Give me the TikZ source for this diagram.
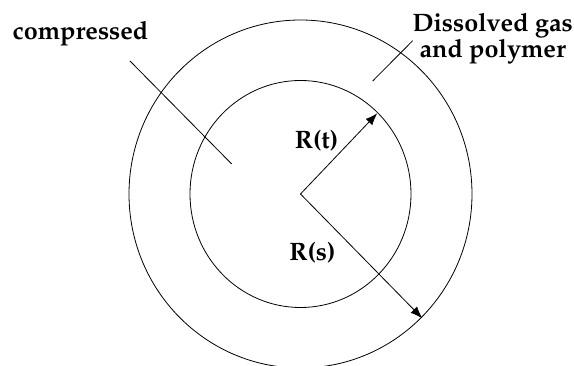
\documentclass[tikz,border=0pt]{standalone}
\usepackage[T1]{fontenc}
\usepackage{mathpazo}
\usetikzlibrary{arrows.meta}
\begin{document}
\begin{tikzpicture}[x=1pt,y=-1pt,line width=0.8pt,
  lbl/.style={font=\fontsize{25.2}{25.6}\selectfont\bfseries,inner sep=0pt},
  tip/.style={-{Latex[length=12pt,width=9pt]}}]
\useasboundingbox (0,0) rectangle (574,366);
\coordinate (c) at (300.5,194);
\draw (c) ellipse [x radius=110.5, y radius=113.5];
\draw (c) ellipse [x radius=171.5, y radius=174];
\node[lbl,anchor=base west] (comp) at (12.2,40) {compressed};
\node[lbl,align=center,anchor=base] (gas) at (492.7,57.3) {Dissolved gas\\and polymer};
\node[lbl,anchor=base west] (rt) at (294.5,149) {R(t)};
\node[lbl,anchor=base west] (rs) at (289,261) {R(s)};
\coordinate (a) at (130,61);
\coordinate (b) at (231.7,164);
\coordinate (d) at (412.7,40.7);
\coordinate (e) at (372.7,81);
\coordinate (tt) at (377.3,113.3);
\coordinate (ts) at (422.3,318.3);
\draw (a) -- (b);
\draw (d) -- (e);
\draw[tip] (c) -- (tt);
\draw[tip] (c) -- (ts);
\end{tikzpicture}
\end{document}
